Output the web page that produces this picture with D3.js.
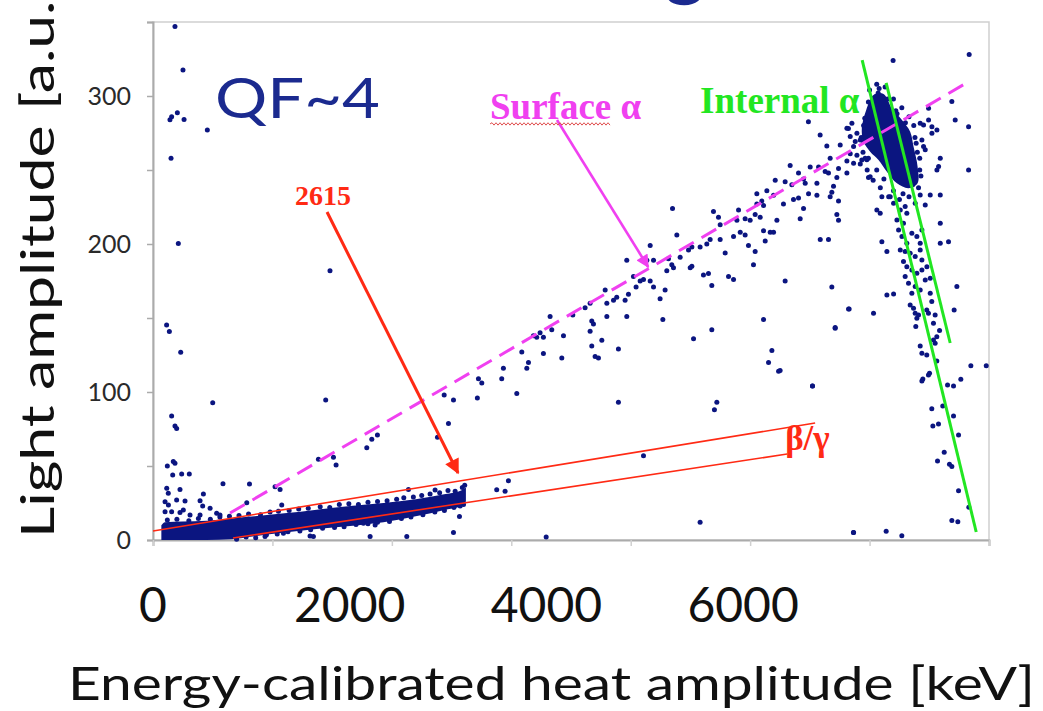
<!DOCTYPE html>
<html><head><meta charset="utf-8">
<script src="https://cdn.jsdelivr.net/npm/d3@7"></script>
<style>body{margin:0;background:#fff}svg{display:block}</style>
</head><body>
<svg id="chart" width="1043" height="711"></svg>
<script>
// ---------- axis values ----------
const xTicks = [0,1000,2000,3000,4000,5000,6000,7000];
const yTicks = [0,50,100,150,200,250,300,350];
const yTickLabels = [0,100,200,300];
const xSlideLabels = [0,2000,4000,6000];

// ---------- dense beta/gamma band (envelope) ----------
const bandEnergy = [70,100,250,450,650,850,1100,1370,1650,1930,2200,2450,2580,2620];
const bandLow    = [0,0,0,0,0.5,2.5,5,7.5,9.5,12,16,20.5,23,26];
const bandHigh   = [10,12,12.5,13,14.5,16,18,20.5,23,25,27.5,31,33.5,35.5];
const bandEdgePoints = [[120,13.5],[200,14],[300,13],[380,14.5],[480,14],[560,15.5],[640,16],[720,16.5],[800,17.5],[900,17],[980,19],[1050,19.5],[1140,20],[1220,21],[1300,21.5],[1400,22.5],[1480,22],[1560,24],[1640,24.5],[1720,24],[1800,25.5],[1880,26],[1960,26.5],[2040,27.5],[2100,28.5],[2180,29],[2250,30],[2320,31],[2400,32],[2470,33.5],[2530,33],[2590,35.5],[2610,37],
[700,0.5],[780,2],[860,1.5],[950,3.5],[1040,4],[1130,5.5],[1230,6],[1320,7],[1420,8],[1520,8.5],[1600,9],[1700,10.5],[1800,11],[1880,12],[1980,12.5],[2080,14.5],[2160,15.5],[2260,17],[2360,19],[2440,20],[2520,22],[2600,24]];

// ---------- dense internal-alpha core (outline) ----------
const coreEnergy = [6033,6117,6187,6271,6340,6368,6402,6402,6326,6229,6145,6075,6005,5949,5935,5972];
const coreLight  = [300.7,301.4,291.7,283.8,275.9,265.8,252.3,241,237.7,241,248.9,256.8,262.4,269.2,278.2,290.6];
const coreEdgePoints = [[6000,304],[6080,305],[6150,298],[6220,290],[5960,285],[5930,272],[5990,258],[6060,250],[6120,244],[6200,236],[6280,234],[6360,240],[6420,250],[6400,262],[6380,272],[6300,282],[6230,288],
[5990,296],[6010,290],[5950,280],[5945,262],[5980,250],[6030,243],[6090,238],[6160,232],[6250,230],[6330,232],[6410,238],[6430,246],[6420,258],[6390,268],[6370,280],[6330,286],[6270,292],[6200,298],[6130,306],[6060,308]];

// ---------- scattered events ----------
const outlierPoints = [[184,347],[251,317.5],[156,286],[142,284],[204,288.7],[260,284.2],[455,277],[151,258],[212,200.4],[1482,182],
[114,145.3],[137,140.8],[232,126.8],[500,92.8],[1446,94.6],[156,83.8],[184,77],[198,75.4],
[170,53],[184,51.8],[120,50],[165,44],[240,44.6],[304,44.6],[586,38],[808,37.8],
[115,35],[226,34.2],[128,31.6],[422,31],[198,27],[268,26.3],[394,26.6],[101,25.9],
[129,23.6],[416,23],[478,21.4],[254,20.3],[101,19.1],[156,19.1],[226,18.5],[310,16.9],[394,16.9],[533,18],[561,16.9],
[1022,36],[1064,34.2],[1078,23.7],[785,25.2],
[1385,54.5],[1511,55.9],[1533,50.7],[1790,62.4],[1832,68],[1879,71],[2382,69.4],[2438,98],[2516,94.6],[2474,78.8],
[2139,34.2],[2362,33.8],[2572,23],[2566,15.8],[2516,5],[2125,2.3],[1818,2.3],[1762,11.3],[1860,10.1],[1343,2.3],[1315,2.7],[1092,4.5],[938,2.3]];

const surfacePoints = [[4350,224],[5335,253],[5503,252],[5573,252],[5670,258],[5838,261],[5894,260],[5810,256],[5922,254],[5977,257],
[5405,248],[5447,244],[5628,249],[5656,248],[5740,251],[5810,248],[5726,245],[5210,243],[5293,242],[5349,240],[5461,241],[5559,241],[5698,239],[5684,235],
[5056,234],[5140,236],[5098,229],[5056,227],[5112,226],[5196,233],[5279,227],[5363,230],[5405,231],[5489,234],[5559,233],[5670,232],[5740,229],
[5447,224],[5419,217],[5726,220],[5740,216],[4903,223],[4693,222],[4735,218],[4889,216],[4958,217],[5000,216],[5042,220],[5084,218],[5224,216],
[5112,209],[5168,208],[5196,208],[5126,202],[4986,199],[4958,206],[4917,208],[4861,205],[4749,213],[4749,203],[4665,203],[4637,200],[4581,198],[4512,198],[4484,196],[4386,206],
[4163,199],[4135,189],[4191,189],[4316,190],[4344,186],[4414,191],[4302,182],[4358,184],[4498,184],[4512,185],[4609,179],[4651,180],[4679,172],[4791,194],[4819,178],[4861,176],
[5042,195],[5028,186],[5293,175],[5587,203],[5656,203],[5684,171],[5824,156],[5712,143],[5112,149],[5182,128],[5154,120],[5238,114],[5522,104],[4679,142],[4526,136],[4721,93],[4701,88],
[4269,149],[4246,163],[4288,169],[4191,171],[4163,175],[4107,176],[4079,175],[4023,178],[3967,189],[4045,171],[3981,166],[3953,162],[3883,164],[3856,162],[3800,160],[3786,169],
[3660,160],[3618,157],[3515,152],[3325,151],[3339,142],[3437,138],[3213,137],[3185,138],[3241,140],[3269,137],[3674,148],[3660,141],[3688,146],[3800,151],[3967,151],
[3758,135],[3674,131],[3702,124],[3730,123],[3897,129],[3423,123],[3269,126],[3088,127],[3130,116],[3144,120],[2934,116],[2920,109],[2753,106],[2725,109],[2716,96],[3046,99],[3897,93],
[4107,57],[2976,40],[2878,34],[2948,33],[4581,12],[3292,2],[5866,5],[5991,245]];

const alphaPoints = [[5488,282.6],[5586,273.6],[5642,266.2],[5754,266.9],[5823,278.1],[6197,324],[6072,302],[6834,328],
[5852,281.6],[5810,278.2],[5894,274.8],[5838,272.6],[5880,269.2],[5922,270.3],[5866,265.8],[5949,269.2],[5963,257.9],[5935,256.8],[5866,254.5],[6005,245.5],
[6494,291.7],[6689,296.2],[6717,283.8],[6829,279.3],[6424,281.6],[6452,280.4],[6522,279.3],[6494,283.8],[6564,277.1],[6522,274.8],[6438,270.3],[6452,265.8],[6466,263.6],[6592,257.9],[6578,252.3],[6564,250],[6829,250],
[6424,233.1],[6508,233.1],[6592,233.1],[6466,226.4],[6382,227.5],[6592,214],[6438,209.5],[6592,200.5],[6661,201.6],[6731,171.2],
[6061,223],[6089,220.8],[6103,232],[6173,232],[6201,227.5],[6257,223],[6298,225.3],[6312,220.8],[6229,216.3],[6284,214],[6243,209.5],[6271,205],[6312,200.5],[6354,207.3],[6396,205],[6424,200.5],
[6103,201.6],[6145,194.9],[6257,196],[6298,194.9],[6340,193.7],[6382,191.5],[6424,196],[6438,189.2],[6284,188.1],[6312,184.7],[6354,182.5],[6396,180.2],[6438,182.5],[6480,184.7],
[6298,178],[6326,173.5],[6382,171.2],[6424,169],[6466,175.7],[6508,176.9],[6354,166.7],[6145,165.6],[6201,166.3],[6508,166.7],
[5829,156.1],[6033,153.2],[5712,143.5],[5522,104.1],[5251,114.5],
[6340,158.8],[6368,156.6],[6382,153.2],[6396,149.8],[6410,152.1],[6479,155.4],[6493,153.2],[6521,161.1],[6549,152.1],[6535,146.4],[6586,141.5],[6563,137.4],[6535,135.2],[6549,132.9],[6708,155.4],
[6387,144.2],[6424,131.1],[6438,126.2],[6479,125],[6563,121],[6848,117.8],[6977,117.8],[6446,108.8],[6438,107.5],[6493,111.5],[6502,112.6],[6653,104.8],[6703,104.1],[6764,108.6],
[6521,88.6],[6613,90.6],[6703,83.8],[6530,77.1],[6577,78.4],[6745,71],[6625,59.3],[6569,53.4],[6669,51.2],[6689,49.6],[6745,33.2],[6831,22.1],[6689,13.1],[6739,12.4],[5865,5],[6139,5.9],[6270,2.8]];

// ---------- guide lines & arrows (data coordinates) ----------
const betaGammaUpper = [[0,6.1],[5544,79]];
const betaGammaLower = [[670,1.35],[5310,58.1]];
const surfaceLine    = [[645,18.2],[6826,309.5]];
const internalLineA  = [[5938,324.3],[6893,5.4]];
const internalLineB  = [[6139,308.8],[6675,133.1]];
const arrow2615      = [[1457,221.6],[2554,45.3]];
const arrowSurface   = [[3383,283.8],[4146,184.5]];

// ---------- drawing ----------
const svg = d3.select("#chart");
const W = 1043, H = 711;
svg.append("rect").attr("width",W).attr("height",H).attr("fill","#fff");

const x = d3.scaleLinear().domain([0,7000]).range([153,989]);
const y = d3.scaleLinear().domain([0,350]).range([540,22]);
// the slide's large overlay tick labels do not sit on the chart's own ticks
const slideX = d3.scaleLinear().domain([0,8500]).range(x.range());

const NAVY = "#0b1580", RED = "#ff2a14", MAG = "#f040f0", GREEN = "#22e622", SLIDE = "#1b2a8f";
const gray = "#ababab";

// frame
svg.append("rect").attr("x",x(0)).attr("y",y(350)).attr("width",x(7000)-x(0)).attr("height",y(0)-y(350))
  .attr("fill","none").attr("stroke","#cfcfcf").attr("stroke-width",1.5);

// axes
const yAxis = svg.append("g").attr("transform",`translate(${x(0)},0)`)
  .call(d3.axisLeft(y).tickValues(yTicks).tickSize(6).tickPadding(16)
  .tickFormat(d => yTickLabels.includes(d) ? d : ""));
yAxis.select(".domain").attr("stroke",gray).attr("stroke-width",2);
yAxis.selectAll(".tick line").attr("stroke",gray).attr("stroke-width",1.5);
yAxis.selectAll(".tick text").attr("font-family","Lato, 'Open Sans', sans-serif").attr("font-size",25).attr("fill","#2a2a2a");

const xAxis = svg.append("g").attr("transform",`translate(0,${y(0)})`)
  .call(d3.axisBottom(x).tickValues(xTicks).tickSize(6).tickFormat(""));
xAxis.select(".domain").attr("stroke",gray).attr("stroke-width",2);
xAxis.selectAll(".tick line").attr("stroke","#d0d0d0").attr("stroke-width",1.5);

// slide tick labels
svg.append("g").selectAll("text").data(xSlideLabels).join("text")
  .attr("x",d=>slideX(d)).attr("y",622).attr("text-anchor","middle")
  .attr("font-family","Lato, 'Open Sans', sans-serif").attr("font-size",48).attr("fill","#111")
  .text(d=>d);

// dense band
svg.append("path").datum(bandEnergy.map((e,i)=>[e,bandLow[i],bandHigh[i]]))
  .attr("fill",NAVY)
  .attr("d", d3.area().x(d=>x(d[0])).y0(d=>y(d[1])).y1(d=>y(d[2])).curve(d3.curveMonotoneX));

// dense core
svg.append("path").datum(coreEnergy.map((e,i)=>[e,coreLight[i]]))
  .attr("fill",NAVY)
  .attr("d", d3.line().x(d=>x(d[0])).y(d=>y(d[1])).curve(d3.curveCatmullRomClosed));

// dots
const allPts = [].concat(bandEdgePoints, coreEdgePoints, outlierPoints, surfacePoints, alphaPoints);
svg.append("g").selectAll("circle").data(allPts).join("circle")
  .attr("cx",d=>x(d[0])).attr("cy",d=>y(d[1])).attr("r",2.5).attr("fill",NAVY);

// guide lines
const seg = d3.line().x(d=>x(d[0])).y(d=>y(d[1]));
svg.append("path").attr("d",seg(betaGammaUpper)).attr("stroke",RED).attr("stroke-width",1.6).attr("fill","none");
svg.append("path").attr("d",seg(betaGammaLower)).attr("stroke",RED).attr("stroke-width",1.6).attr("fill","none");
svg.append("path").attr("d",seg(surfaceLine)).attr("stroke",MAG).attr("stroke-width",3).attr("stroke-dasharray","17,9").attr("fill","none");
svg.append("path").attr("d",seg(internalLineA)).attr("stroke",GREEN).attr("stroke-width",3).attr("fill","none");
svg.append("path").attr("d",seg(internalLineB)).attr("stroke",GREEN).attr("stroke-width",3).attr("fill","none");

// arrows
const defs = svg.append("defs");
function marker(id,color){
  defs.append("marker").attr("id",id).attr("viewBox","0 0 10 10").attr("refX",9).attr("refY",5)
    .attr("markerWidth",5.5).attr("markerHeight",5).attr("orient","auto").attr("markerUnits","strokeWidth")
    .append("path").attr("d","M0,0 L10,5 L0,10 z").attr("fill",color);
}
marker("ahRed",RED); marker("ahMag",MAG);
svg.append("path").attr("d",seg(arrow2615)).attr("stroke",RED).attr("stroke-width",3).attr("fill","none").attr("marker-end","url(#ahRed)");
svg.append("path").attr("d",seg(arrowSurface)).attr("stroke",MAG).attr("stroke-width",2.6).attr("fill","none").attr("marker-end","url(#ahMag)");

// annotation labels (data anchors)
const serif = "'Liberation Serif','Times New Roman',serif";
svg.append("text").attr("x",x(1189)).attr("y",y(226.4)).attr("font-family",serif).attr("font-weight","bold")
  .attr("font-size",28).attr("fill",RED).text("2615");
const surfT = svg.append("text").attr("x",x(2822)).attr("y",y(284.5)).attr("font-family",serif).attr("font-weight","bold")
  .attr("font-size",37).attr("fill",MAG).text("Surface α");
svg.append("text").attr("x",x(4581)).attr("y",y(288.5)).attr("font-family",serif).attr("font-weight","bold")
  .attr("font-size",37).attr("fill",GREEN).text("Internal α");
svg.append("text").attr("x",x(5293)).attr("y",y(60.8)).attr("font-family",serif).attr("font-weight","bold")
  .attr("font-size",35).attr("fill",RED).text("β/γ");

// spell-check wavy underline under "Surface"
{
  const bb = surfT.node().getBBox();
  const x0 = bb.x, x1 = bb.x + bb.width*0.8, yy = y(284.5) + 5;
  let d = `M${x0},${yy}`; let up = true;
  for (let xx = x0+2; xx <= x1; xx += 2){ d += ` L${xx},${yy + (up?-1.2:1.2)}`; up = !up; }
  svg.append("path").attr("d",d).attr("stroke","#e05050").attr("stroke-width",1).attr("fill","none");
}

// slide overlay text
svg.append("text").attr("x",x(519)).attr("y",y(285)).attr("font-family","Lato, 'Open Sans', sans-serif")
  .attr("font-size",56).attr("fill",SLIDE).attr("textLength",165).attr("lengthAdjust","spacingAndGlyphs").text("QF~4");
// tail of the slide title above the picture (cut off in the original)
svg.append("text").attr("x",664).attr("y",-10).attr("font-family","Lato, sans-serif").attr("font-size",80).attr("fill",SLIDE).text("g");

// axis titles
svg.append("text").attr("x",68).attr("y",700).attr("font-family","Lato, 'Open Sans', sans-serif")
  .attr("font-size",46).attr("fill","#111").attr("textLength",967).attr("lengthAdjust","spacingAndGlyphs")
  .text("Energy-calibrated heat amplitude [keV]");
svg.append("text").attr("transform","translate(54,538) rotate(-90)").attr("font-family","Lato, 'Open Sans', sans-serif")
  .attr("font-size",46).attr("fill","#111").attr("textLength",556).attr("lengthAdjust","spacingAndGlyphs")
  .text("Light amplitude [a.u.]");
</script>
</body></html>
